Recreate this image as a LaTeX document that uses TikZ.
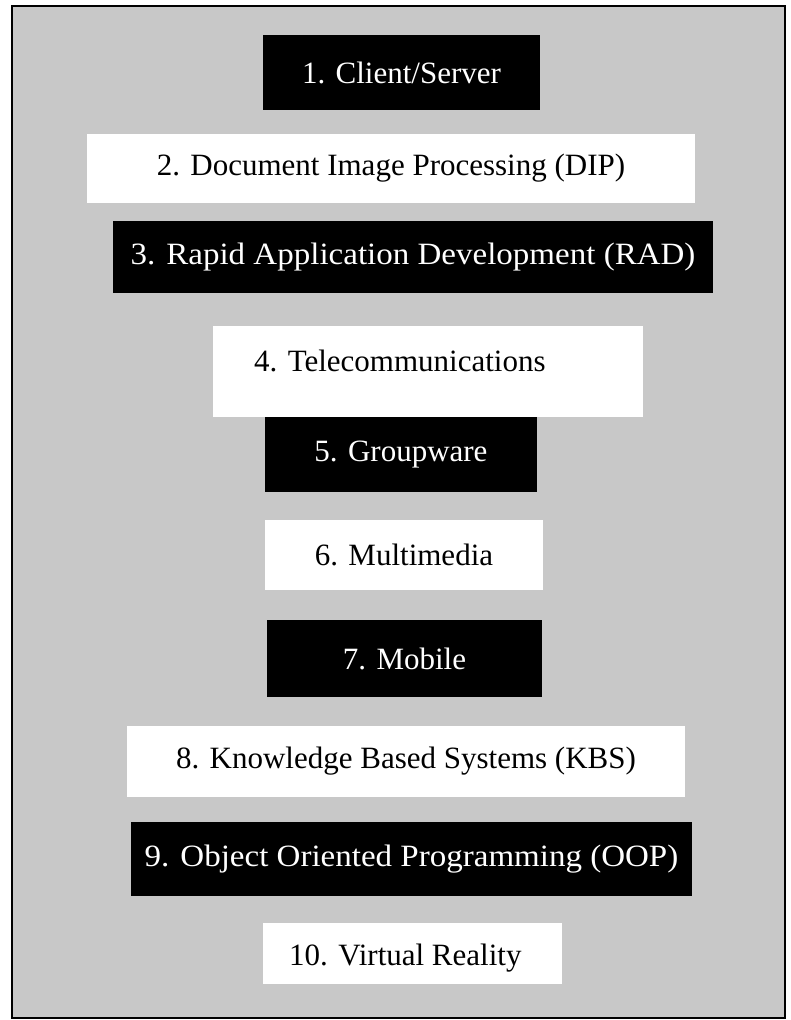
\documentclass[tikz,border=0pt]{standalone}
\usepackage{fontspec}
\setmainfont{Liberation Serif}
\usepackage{tikz}
\usetikzlibrary{positioning}
\definecolor{panel}{RGB}{200,200,200}
\tikzset{
	darkbox/.style={fill=black, text=white, inner sep=0pt},
	lightbox/.style={fill=white, text=black, inner sep=0pt},
}
\newcommand{\widetitle}[1]{\scalebox{1.065}[1]{#1}}

\begin{document}
\begin{tikzpicture}[x=1pt, y=-1pt, font=\fontsize{31}{37}\selectfont]
			\useasboundingbox (0,0) rectangle (790,1020);
			\draw[line width=2.5pt, fill=panel] (12,6) rectangle (785,1018);
			
			\node[darkbox, minimum width=277, minimum height=75] (1) at (401.5,72.5) {1. Client/Server};
			\node[lightbox, minimum width=608, minimum height=69] (2) at (391,168.5) {2. Document Image Processing (DIP)};
			\node[darkbox, minimum width=600, minimum height=72] (3) at (413,257) {\widetitle{3. Rapid Application Development (RAD)}};
			\node[darkbox, minimum width=272, minimum height=75] (5) at (401,454.5) {5. Groupware};
			\node[lightbox, minimum width=430, minimum height=91] (4) at (428,371.5) {};
			\node[anchor=base west, inner sep=0pt] (4t) at (254,371) {4. Telecommunications};
			\node[lightbox, minimum width=278, minimum height=70] (6) at (404,555) {6. Multimedia};
			\node[darkbox, minimum width=275, minimum height=77] (7) at (404.5,658.5) {7. Mobile};
			\node[lightbox, minimum width=558, minimum height=71] (8) at (406,761.5) {8. Knowledge Based Systems (KBS)};
			\node[darkbox, minimum width=561, minimum height=74] (9) at (411.5,859) {\widetitle{9. Object Oriented Programming (OOP)}};
			\node[lightbox, minimum width=299, minimum height=61] (10) at (412.5,953.5) {};
			\node[anchor=base west, inner sep=0pt] (10t) at (289,965) {10. Virtual Reality};
\end{tikzpicture}
\end{document}
